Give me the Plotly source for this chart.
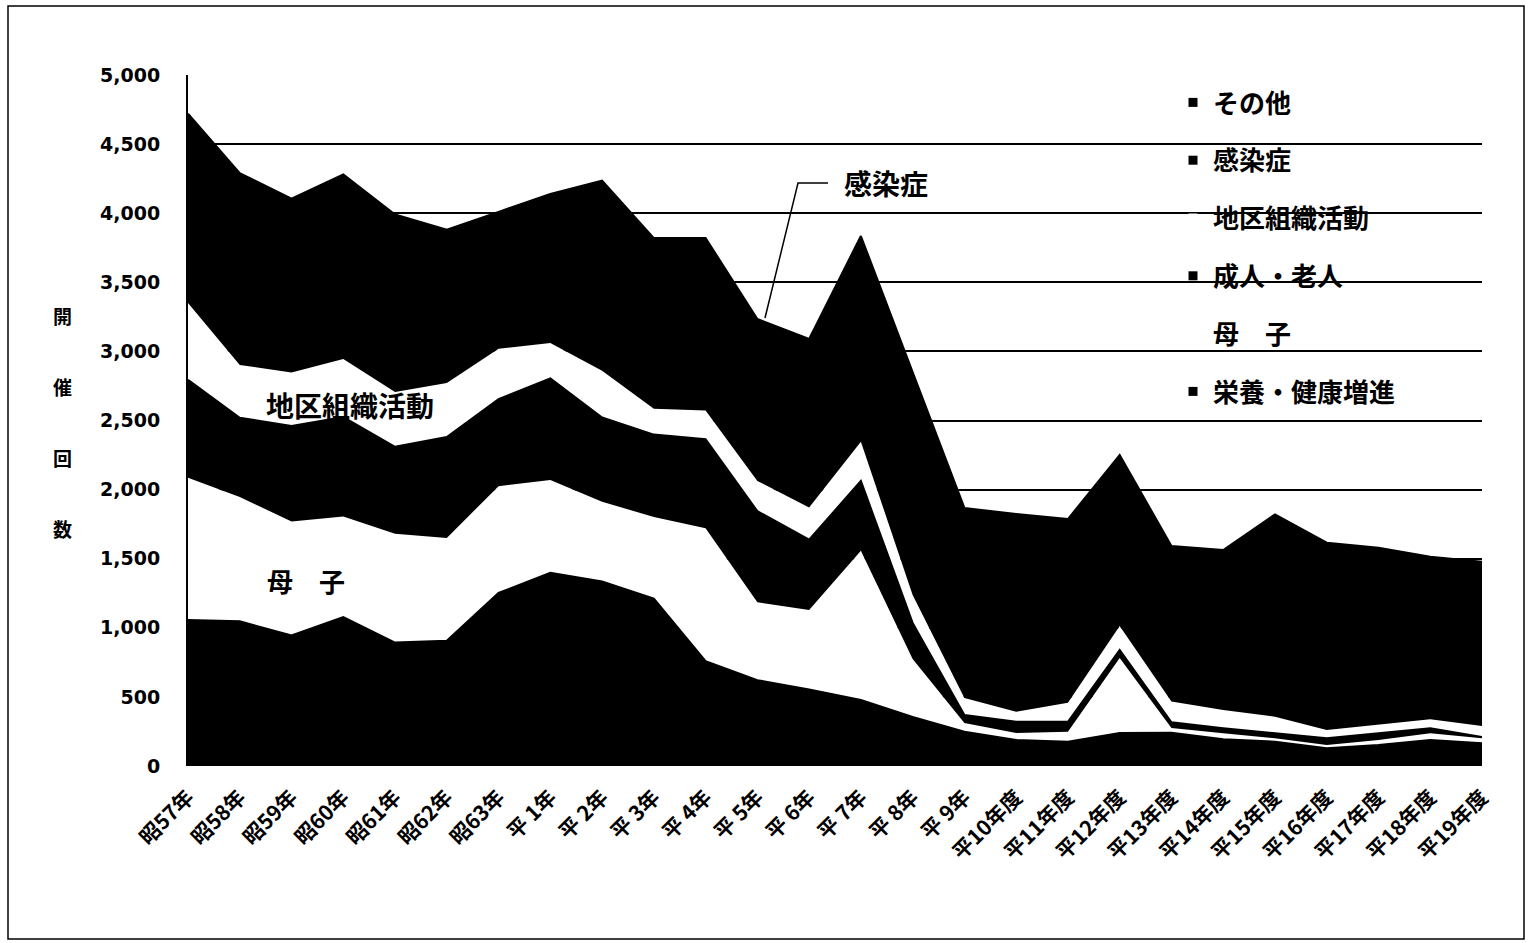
import plotly.graph_objects as go

categories = ["昭57年", "昭58年", "昭59年", "昭60年", "昭61年", "昭62年", "昭63年",
              "平 1年", "平 2年", "平 3年", "平 4年", "平 5年", "平 6年", "平 7年", "平 8年", "平 9年",
              "平10年度", "平11年度", "平12年度", "平13年度", "平14年度", "平15年度",
              "平16年度", "平17年度", "平18年度", "平19年度"]

eiyo = [1056, 1047, 945, 1078, 893, 906, 1252, 1399, 1336, 1212, 759, 621, 553, 478, 355, 248,
        188, 176, 239, 240, 193, 176, 128, 152, 188, 164]
boshi = [1029, 899, 825, 727, 787, 744, 773, 670, 576, 590, 961, 563, 576, 1080, 419, 63,
         51, 72, 542, 35, 44, 24, 24, 36, 49, 36]
seijin = [710, 574, 690, 720, 630, 731, 630, 736, 610, 596, 645, 660, 509, 504, 261, 58,
          81, 72, 58, 41, 36, 37, 48, 49, 36, 10]
chiku = [555, 382, 388, 420, 396, 390, 365, 255, 338, 187, 207, 219, 233, 285, 202, 123,
         72, 138, 174, 150, 132, 120, 60, 60, 65, 79]
kansen = [1090, 1098, 997, 1055, 1014, 879, 780, 860, 1095, 985, 998, 932, 969, 1188, 1293, 1095,
          1141, 1059, 987, 896, 928, 1174, 1086, 1023, 937, 949]
sonota = [280, 290, 260, 280, 270, 230, 210, 220, 280, 250, 250, 240, 250, 300, 320, 280,
          290, 270, 250, 230, 230, 290, 270, 260, 240, 240]

series = [
    ("栄養・健康増進", eiyo, "black"),
    ("母　子", boshi, "white"),
    ("成人・老人", seijin, "black"),
    ("地区組織活動", chiku, "white"),
    ("感染症", kansen, "black"),
    ("その他", sonota, "black"),
]

y_ticks = [0, 500, 1000, 1500, 2000, 2500, 3000, 3500, 4000, 4500, 5000]
y_ticktext = ["0", "500", "1,000", "1,500", "2,000", "2,500", "3,000", "3,500", "4,000", "4,500", "5,000"]

CJK = "Noto Sans CJK JP"

fig = go.Figure()
for name, vals, col in series:
    lw = 2 if col == "black" else 0
    fig.add_trace(go.Scatter(
        x=categories, y=vals, name=name, stackgroup="one", mode="lines",
        line=dict(width=lw, color=col), fillcolor=col, showlegend=False,
        hoverinfo="x+y+name"))

# legend-only entries (small square markers like the original)
for i, (name, vals, col) in enumerate(reversed(series)):
    fig.add_trace(go.Scatter(
        x=[None], y=[None], name=name, mode="markers",
        marker=dict(symbol="square", size=9, color=col),
        legendgroup=f"g{i}", showlegend=True))

W, H = 1532, 943
L, R, T, B = 188, 50, 75, 177
pw, ph = W - L - R, H - T - B


def px(x):
    return (x - L) / pw


def py(y):
    return (H - B - y) / ph


fig.update_layout(
    width=W, height=H,
    margin=dict(l=L, r=R, t=T, b=B),
    paper_bgcolor="white", plot_bgcolor="white",
    font=dict(family=CJK, color="black"),
    showlegend=True,
    legend=dict(x=px(1173), y=py(79), xanchor="left", yanchor="top",
                bgcolor="rgba(0,0,0,0)", traceorder="grouped", tracegroupgap=21,
                font=dict(family=CJK, size=26, color="black", weight="bold"),
                itemclick=False),
    xaxis=dict(range=[0, 25], showgrid=False, zeroline=False, showline=False,
               tickangle=-45, ticks="", ticklabelstandoff=14,
               tickfont=dict(family=CJK, size=21, color="black", weight="bold")),
    yaxis=dict(range=[0, 5000], tickvals=y_ticks, ticktext=y_ticktext,
               showgrid=True, gridcolor="black", gridwidth=1.5,
               zeroline=False, showline=True, linecolor="black", linewidth=2,
               ticks="", ticklabelstandoff=22,
               tickfont=dict(family="DejaVu Sans", size=19, color="black", weight="bold")),
)

# axis title characters (vertical)
for ch, yy in zip("開催回数", [315, 387, 457, 528]):
    fig.add_annotation(text=ch, xref="paper", yref="paper", x=px(62), y=py(yy),
                       xanchor="center", yanchor="middle", showarrow=False,
                       font=dict(family=CJK, size=19, color="black", weight="bold"))

# in-chart labels
fig.add_annotation(text="地区組織活動", xref="paper", yref="paper", x=px(350), y=py(405),
                   xanchor="center", yanchor="middle", showarrow=False,
                   font=dict(family=CJK, size=28, color="black", weight="bold"))
fig.add_annotation(text="母　子", xref="paper", yref="paper", x=px(306), y=py(580),
                   xanchor="center", yanchor="middle", showarrow=False,
                   font=dict(family=CJK, size=26, color="black", weight="bold"))
fig.add_annotation(text="感染症", xref="paper", yref="paper", x=px(886), y=py(183),
                   xanchor="center", yanchor="middle", showarrow=False,
                   font=dict(family=CJK, size=28, color="black", weight="bold"))

# leader line for 感染症
fig.add_shape(type="path", xref="paper", yref="paper",
              path=f"M {px(828)} {py(183)} L {px(798)} {py(183)} L {px(765)} {py(318)}",
              line=dict(color="black", width=1.5))

# outer frame
fig.add_shape(type="rect", xref="paper", yref="paper",
              x0=px(8), x1=px(1524), y0=py(939), y1=py(6),
              line=dict(color="black", width=1.5), fillcolor="rgba(0,0,0,0)", layer="below")

fig.write_html("out.html", config={"displayModeBar": False},
               post_script="document.body.style.margin='0';")
